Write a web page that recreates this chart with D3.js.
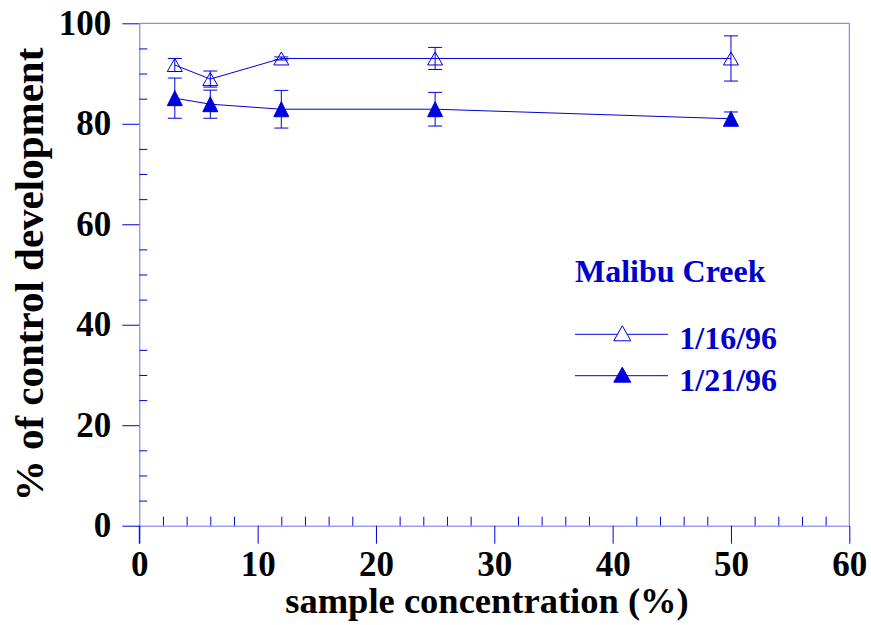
<!DOCTYPE html>
<html>
<head>
<meta charset="utf-8">
<script src="https://d3js.org/d3.v7.min.js"></script>
<style>
	body { margin: 0; background: #ffffff; }
	svg { display: block; }
	.tick text { font-family: "Liberation Serif", "Times New Roman", serif; font-weight: bold; fill: #000000; }
</style>
</head>
<body>
<div id="chart"></div>
<script>
// % of control development vs sample concentration, Malibu Creek

const FRAME_HEIGHT = 625;
const FRAME_WIDTH = 871;
const MARGINS = {left: 139.3, right: 21.7, top: 23.3, bottom: 99.3};

const VIS_HEIGHT = FRAME_HEIGHT - MARGINS.top - MARGINS.bottom;
const VIS_WIDTH = FRAME_WIDTH - MARGINS.left - MARGINS.right;

// data
const CONCENTRATIONS = [3, 6, 12, 25, 50];
const JAN16_MEAN = [91.7, 88.9, 93.0, 93.0, 93.0];
const JAN16_ERR = [1.3, 1.6, 0.3, 2.2, 4.5];
const JAN21_MEAN = [85.1, 83.9, 82.9, 82.9, 81.0];
const JAN21_ERR = [4.0, 2.8, 3.75, 3.35, 1.35];

const X_TICKS = [0, 10, 20, 30, 40, 50, 60];
const Y_TICKS = [0, 20, 40, 60, 80, 100];
const X_MINOR = d3.range(0, 61, 2).filter((d) => d % 10 != 0);
const Y_MINOR = d3.range(0, 101, 5).filter((d) => d % 20 != 0);

const SERIES_NAMES = ["1/16/96", "1/21/96"];
const LEGEND_TITLE = "Malibu Creek";

const BLUE = "#0000dd";
const AXIS_BLUE = "#6e6eec";
const SERIF = "'Liberation Serif', 'Times New Roman', serif";

const FRAME1 =
d3.select("#chart")
	.append("svg")
		.attr("height", FRAME_HEIGHT)
		.attr("width", FRAME_WIDTH);

const X_SCALE = d3.scaleLinear()
					.domain([0, 60])
					.range([0, VIS_WIDTH]);

const Y_SCALE = d3.scaleLinear()
					.domain([0, 100])
					.range([VIS_HEIGHT, 0]);

const PLOT = FRAME1.append("g")
		.attr("transform", "translate(" + MARGINS.left + "," + MARGINS.top + ")");

// top and right frame lines
PLOT.append("line")
		.attr("x1", 0).attr("x2", VIS_WIDTH)
		.attr("y1", 0).attr("y2", 0)
		.attr("stroke", AXIS_BLUE);
PLOT.append("line")
		.attr("x1", VIS_WIDTH).attr("x2", VIS_WIDTH)
		.attr("y1", 0).attr("y2", VIS_HEIGHT)
		.attr("stroke", AXIS_BLUE);

// x axis: major ticks outward, minor ticks inward
const X_AXIS = PLOT.append("g")
		.attr("transform", "translate(0," + VIS_HEIGHT + ")")
		.call(d3.axisBottom(X_SCALE).tickValues(X_TICKS).tickSize(18).tickSizeOuter(0));
X_AXIS.select(".domain").attr("stroke", AXIS_BLUE);
X_AXIS.selectAll(".tick line").attr("stroke", BLUE);
X_AXIS.selectAll(".tick text")
		.attr("y", 50)
		.attr("dy", 0)
		.attr("font-size", "35px");

const X_AXIS_MINOR = PLOT.append("g")
		.attr("transform", "translate(0," + VIS_HEIGHT + ")")
		.call(d3.axisBottom(X_SCALE).tickValues(X_MINOR).tickSize(-9).tickFormat(""));
X_AXIS_MINOR.select(".domain").remove();
X_AXIS_MINOR.selectAll(".tick line").attr("stroke", BLUE);

// y axis
const Y_AXIS = PLOT.append("g")
		.call(d3.axisLeft(Y_SCALE).tickValues(Y_TICKS).tickSize(17).tickPadding(11).tickSizeOuter(0));
Y_AXIS.select(".domain").attr("stroke", AXIS_BLUE);
Y_AXIS.selectAll(".tick line").attr("stroke", BLUE);
Y_AXIS.selectAll(".tick text")
		.attr("dy", "0.31em")
		.attr("font-size", "35px");

const Y_AXIS_MINOR = PLOT.append("g")
		.call(d3.axisLeft(Y_SCALE).tickValues(Y_MINOR).tickSize(-8).tickFormat(""));
Y_AXIS_MINOR.select(".domain").remove();
Y_AXIS_MINOR.selectAll(".tick line").attr("stroke", BLUE);

// y axis line continues down to the x=0 tick
PLOT.append("line")
		.attr("x1", 0).attr("x2", 0)
		.attr("y1", VIS_HEIGHT).attr("y2", VIS_HEIGHT + 18)
		.attr("stroke", BLUE);

// axis titles
FRAME1.append("text")
		.attr("x", 487)
		.attr("y", 612.5)
		.attr("text-anchor", "middle")
		.attr("font-family", SERIF)
		.attr("font-weight", "bold")
		.attr("font-size", "36.5px")
		.text("sample concentration (%)");

FRAME1.append("text")
		.attr("transform", "translate(43," + (MARGINS.top + VIS_HEIGHT / 2) + ") rotate(-90)")
		.attr("text-anchor", "middle")
		.attr("font-family", SERIF)
		.attr("font-weight", "bold")
		.attr("font-size", "41px")
		.text("% of control development");

// build series rows
function make_rows(means, errs) {
	return CONCENTRATIONS.map((c, i) => {
		return {x: c, y: means[i], e: errs[i]};
	});
}

const SERIES = [
	{name: SERIES_NAMES[0], rows: make_rows(JAN16_MEAN, JAN16_ERR), filled: false},
	{name: SERIES_NAMES[1], rows: make_rows(JAN21_MEAN, JAN21_ERR), filled: true}
];

const LINE = d3.line()
		.x((d) => X_SCALE(d.x))
		.y((d) => Y_SCALE(d.y));

// triangle marker, centered on its box
function triangle(w, h) {
	return "M0," + (-h / 2) + "L" + (w / 2) + "," + (h / 2) + "L" + (-w / 2) + "," + (h / 2) + "Z";
}

SERIES.forEach((s) => {

	const G = PLOT.append("g");

	G.append("path")
			.datum(s.rows)
			.attr("d", LINE)
			.attr("fill", "none")
			.attr("stroke", BLUE)
			.attr("stroke-width", 1);

	// error bars
	const BARS = G.selectAll(".err")
			.data(s.rows)
			.enter()
			.append("g")
				.attr("transform", (d) => "translate(" + X_SCALE(d.x) + ",0)");

	BARS.append("line")
			.attr("x1", 0).attr("x2", 0)
			.attr("y1", (d) => Y_SCALE(d.y + d.e))
			.attr("y2", (d) => Y_SCALE(d.y - d.e))
			.attr("stroke", BLUE);
	BARS.append("line")
			.attr("x1", -7).attr("x2", 7)
			.attr("y1", (d) => Y_SCALE(d.y + d.e))
			.attr("y2", (d) => Y_SCALE(d.y + d.e))
			.attr("stroke", BLUE);
	BARS.append("line")
			.attr("x1", -7).attr("x2", 7)
			.attr("y1", (d) => Y_SCALE(d.y - d.e))
			.attr("y2", (d) => Y_SCALE(d.y - d.e))
			.attr("stroke", BLUE);

	G.selectAll(".point")
			.data(s.rows)
			.enter()
			.append("path")
				.attr("d", s.filled ? triangle(15, 15) : triangle(15, 13))
				.attr("transform", (d) => "translate(" + X_SCALE(d.x) + "," + Y_SCALE(d.y) + ")")
				.attr("fill", s.filled ? BLUE : "none")
				.attr("stroke", BLUE)
				.attr("stroke-width", 1);
});

// legend
const LEGEND = FRAME1.append("g");

LEGEND.append("text")
		.attr("x", 575)
		.attr("y", 281.7)
		.attr("font-family", SERIF)
		.attr("font-weight", "bold")
		.attr("font-size", "32px")
		.attr("fill", "#0000cc")
		.text(LEGEND_TITLE);

SERIES.forEach((s, i) => {
	const ly = 334.3 + i * 41.4;

	LEGEND.append("line")
			.attr("x1", 575).attr("x2", 668)
			.attr("y1", ly).attr("y2", ly)
			.attr("stroke", BLUE);

	LEGEND.append("path")
			.attr("d", triangle(17, 15))
			.attr("transform", "translate(622.3," + (ly - 1) + ")")
			.attr("fill", s.filled ? BLUE : "#ffffff")
			.attr("stroke", BLUE);

	LEGEND.append("text")
			.attr("x", 679.3)
			.attr("y", ly + 15)
			.attr("font-family", SERIF)
			.attr("font-weight", "bold")
			.attr("font-size", "32px")
			.attr("fill", "#0000cc")
			.text(s.name);
});
</script>
</body>
</html>
